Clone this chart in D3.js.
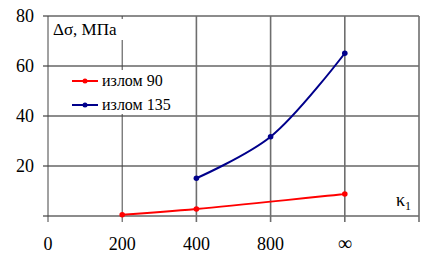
<!DOCTYPE html>
<html><head><meta charset="utf-8">
<script src="https://cdn.jsdelivr.net/npm/d3@7"></script>
<style>body{margin:0;background:#fff}svg{display:block}</style>
</head><body>
<script>
const categories = ["0","200","400","800","∞",""];
const yTicks = [20,40,60,80];
const series90 = [{x:"200",y:0.5},{x:"400",y:2.8},{x:"∞",y:8.8}];
const series135 = [{x:"400",y:15.1},{x:"800",y:31.7},{x:"∞",y:65.1}];
const legendLabels = ["излом 90","излом 135"];
const colors = ["#ff0000","#00008b"];
const FONT = "'Liberation Serif', 'Times New Roman', Times, 'DejaVu Serif', serif";

const W=430,H=260;
const svg=d3.select("body").append("svg").attr("width",W).attr("height",H)
 .style("font-family",FONT);
const x=d3.scalePoint().domain(categories).range([48,419]);
const y=d3.scaleLinear().domain([0,80]).range([216,16]);

svg.append("g").selectAll("line").data([0].concat(yTicks)).join("line")
 .attr("x1",43).attr("x2",419).attr("y1",d=>y(d)).attr("y2",d=>y(d))
 .attr("stroke","#666").attr("stroke-width",1.3);
svg.append("g").selectAll("line").data(categories).join("line")
 .attr("x1",d=>x(d)).attr("x2",d=>x(d)).attr("y1",y(80)).attr("y2",222)
 .attr("stroke",(d,i)=>i<2?"#444":"#6e6e6e").attr("stroke-width",(d,i)=>i<2?1:1.6);

svg.append("g").selectAll("text").data(yTicks).join("text")
 .attr("x",34).attr("y",d=>y(d)+6).attr("text-anchor","end")
 .style("font-family",FONT).attr("font-size",18).text(d=>d);
svg.append("g").selectAll("text").data(categories).join("text")
 .attr("x",d=>x(d)).attr("y",250).attr("text-anchor","middle")
 .style("font-family",FONT).attr("font-size",d=>d==="∞"?20:18).text(d=>d);

svg.append("rect").attr("x",51).attr("y",19).attr("width",74).attr("height",21).attr("fill","#fff");
svg.append("text").attr("x",53).attr("y",35).style("font-family",FONT).attr("font-size",17).text("Δσ, МПа");

const kt=svg.append("text").attr("x",396).attr("y",206).style("font-family",FONT).attr("font-size",18);
kt.append("tspan").text("κ");
kt.append("tspan").attr("font-size",12).attr("dy",4).text("1");

const line=d3.line().x(d=>x(d.x)).y(d=>y(d.y)).curve(d3.curveCatmullRom.alpha(0.5));
[series90,series135].forEach((s,i)=>{
  svg.append("path").datum(s).attr("d",line).attr("fill","none").attr("stroke",colors[i]).attr("stroke-width",2);
  svg.append("g").selectAll("circle").data(s).join("circle")
   .attr("cx",d=>x(d.x)).attr("cy",d=>y(d.y)).attr("r",2.8).attr("fill",colors[i]);
});

const lg=svg.append("g");
lg.append("rect").attr("x",62).attr("y",70).attr("width",125).attr("height",44).attr("fill","#fff");
legendLabels.forEach((t,i)=>{
  const yy=81+i*24;
  lg.append("line").attr("x1",72).attr("x2",98).attr("y1",yy).attr("y2",yy).attr("stroke",colors[i]).attr("stroke-width",2);
  lg.append("circle").attr("cx",85).attr("cy",yy).attr("r",2.5).attr("fill",colors[i]);
  lg.append("text").attr("x",102).attr("y",yy+5).style("font-family",FONT).attr("font-size",16).text(t);
});
</script>
</body></html>
